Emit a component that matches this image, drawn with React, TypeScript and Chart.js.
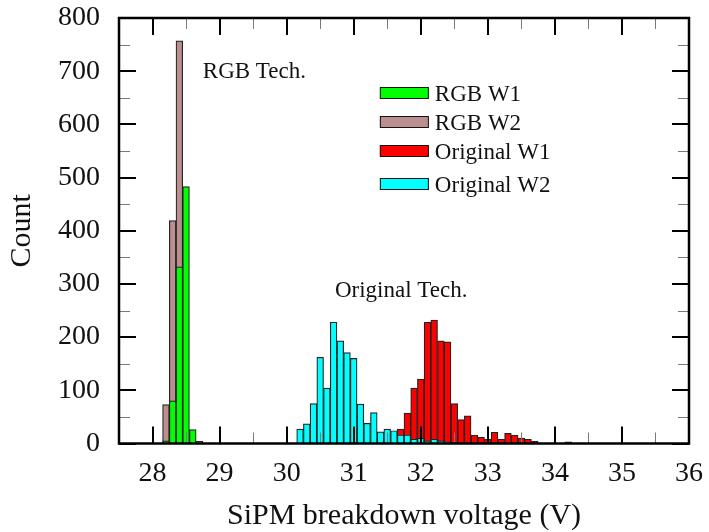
import { useEffect, useRef } from 'react';
import { Chart, registerables } from 'chart.js';

Chart.register(...registerables);

// ---- data (bin centres in V, counts) ----
const binsRgbW1 = [28.2, 28.3, 28.4, 28.5, 28.6];
const countsRgbW1 = [5, 80, 332, 483, 26];

const binsRgbW2 = [28.2, 28.3, 28.4, 28.7];
const countsRgbW2 = [73, 419, 757, 4];

const binsOrigW1 = [31.7, 31.8, 31.9, 32.0, 32.1, 32.2, 32.3, 32.4, 32.5, 32.6, 32.7, 32.8, 32.9, 33.0, 33.1, 33.2, 33.3, 33.4, 33.5, 33.6, 33.7, 34.2];
const countsOrigW1 = [27, 57, 104, 121, 228, 232, 193, 191, 75, 45, 52, 16, 12, 8, 21, 8, 19, 16, 10, 8, 4, 3];

const binsOrigW2 = [30.2, 30.3, 30.4, 30.5, 30.6, 30.7, 30.8, 30.9, 31.0, 31.1, 31.2, 31.3, 31.4, 31.5, 31.6, 31.7, 31.8, 31.9, 32.0, 32.1, 32.2, 32.3, 32.4];
const countsOrigW2 = [27, 37, 75, 162, 104, 228, 193, 171, 160, 74, 38, 58, 22, 27, 24, 16, 16, 8, 10, 5, 8, 5, 3];

const seriesNames = ['RGB W1', 'RGB W2', 'Original W1', 'Original W2'];

const xTickValues = [28, 29, 30, 31, 32, 33, 34, 35, 36];
const xMinorValues = [28.5, 29.5, 30.5, 31.5, 32.5, 33.5, 34.5, 35.5];
const yTickValues = [0, 100, 200, 300, 400, 500, 600, 700, 800];
const yMinorValues = [50, 150, 250, 350, 450, 550, 650, 750];

const xTitle = 'SiPM breakdown voltage (V)';
const yTitle = 'Count';

const annotationTexts = ['RGB Tech.', 'Original Tech.'];
const annotationX = [28.75, 30.72];
const annotationY = [687, 275];

const legendAnchorX = 31.39;
const legendAnchorY = 659;

// ---- styles ----
const SERIF = '"Liberation Serif", "Times New Roman", Times, serif';
const colors = ['#00ff00', '#bc8f8f', '#ff0000', '#00ffff'];
const edge = '#222222';
const legendRowOffsets = [0, 29, 58, 91];

const frameAndTicks = {
  id: 'frameAndTicks',
  afterDatasetsDraw(chart: any) {
    const { ctx, chartArea, scales } = chart;
    const { left, right, top, bottom } = chartArea;
    const x = scales.x;
    const y = scales.y;
    const line = (x1: number, y1: number, x2: number, y2: number) => {
      ctx.beginPath();
      ctx.moveTo(x1, y1);
      ctx.lineTo(x2, y2);
      ctx.stroke();
    };
    ctx.save();
    ctx.strokeStyle = '#7a7a7a';
    ctx.lineWidth = 1;
    for (const v of xMinorValues) {
      const px = Math.round(x.getPixelForValue(v)) + 0.5;
      line(px, bottom, px, bottom - 11);
      line(px, top, px, top + 11);
    }
    for (const v of yMinorValues) {
      const py = Math.round(y.getPixelForValue(v)) + 0.5;
      line(left, py, left + 11, py);
      line(right, py, right - 11, py);
    }
    ctx.strokeStyle = '#000';
    ctx.lineWidth = 2;
    for (const v of xTickValues) {
      const px = Math.round(x.getPixelForValue(v));
      line(px, bottom, px, bottom - 17);
      line(px, top, px, top + 17);
    }
    for (const v of yTickValues) {
      const py = Math.round(y.getPixelForValue(v));
      line(left, py, left + 17, py);
      line(right, py, right - 17, py);
    }
    ctx.lineWidth = 2.5;
    ctx.strokeRect(left, top, right - left, bottom - top);
    ctx.restore();
  },
  afterDraw(chart: any) {
    const { ctx, scales } = chart;
    const x = scales.x;
    const y = scales.y;
    ctx.save();
    ctx.fillStyle = '#111';
    ctx.textBaseline = 'alphabetic';
    ctx.textAlign = 'left';
    ctx.font = `23px ${SERIF}`;
    annotationTexts.forEach((t, i) => {
      ctx.fillText(t, x.getPixelForValue(annotationX[i]), y.getPixelForValue(annotationY[i]));
    });
    const lx = x.getPixelForValue(legendAnchorX);
    const ly = y.getPixelForValue(legendAnchorY);
    seriesNames.forEach((name, i) => {
      const cy = ly + legendRowOffsets[i];
      ctx.fillStyle = colors[i];
      ctx.fillRect(lx, cy - 5.5, 49, 11);
      ctx.strokeStyle = '#111';
      ctx.lineWidth = 1;
      ctx.strokeRect(lx + 0.5, Math.round(cy - 5.5) + 0.5, 48, 11);
      ctx.fillStyle = '#111';
      ctx.fillText(name, lx + 55, cy + 8);
    });
    ctx.restore();
  },
};

function makeSet(i: number, bins: number[], counts: number[], order: number) {
  return {
    label: seriesNames[i],
    data: bins.map((b, k) => ({ x: b, y: counts[k] })),
    backgroundColor: colors[i],
    borderColor: edge,
    borderWidth: 1.2,
    barPercentage: 1,
    categoryPercentage: 1,
    grouped: false,
    order,
  };
}

export default function App() {
  const ref = useRef<HTMLCanvasElement | null>(null);
  useEffect(() => {
    if (!ref.current) return;
    const chart = new Chart(ref.current, {
      type: 'bar',
      data: {
        datasets: [
          makeSet(0, binsRgbW1, countsRgbW1, 0),
          makeSet(1, binsRgbW2, countsRgbW2, 1),
          makeSet(2, binsOrigW1, countsOrigW1, 3),
          makeSet(3, binsOrigW2, countsOrigW2, 2),
        ] as any,
      },
      options: {
        animation: false,
        responsive: true,
        maintainAspectRatio: false,
        layout: { padding: { left: 0, top: 18, right: 20, bottom: 0 } },
        plugins: { legend: { display: false }, tooltip: { enabled: false } },
        scales: {
          x: {
            type: 'linear',
            min: 27.5,
            max: 36,
            offset: false,
            grid: { display: false, drawTicks: false },
            border: { display: false },
            afterBuildTicks: (s: any) => {
              s.ticks = xTickValues.map((v) => ({ value: v }));
            },
            afterFit: (s: any) => {
              s.height = 88.5;
              s.paddingLeft = 0;
              s.paddingRight = 0;
            },
            ticks: {
              font: { family: SERIF, size: 28 },
              color: '#111',
              padding: 13,
              maxRotation: 0,
              autoSkip: false,
            },
            title: {
              display: true,
              text: xTitle,
              color: '#111',
              font: { family: SERIF, size: 30, lineHeight: 1 },
              padding: { top: 0, bottom: 1 },
            },
          },
          y: {
            type: 'linear',
            min: 0,
            max: 800,
            grid: { display: false, drawTicks: false },
            border: { display: false },
            afterBuildTicks: (s: any) => {
              s.ticks = yTickValues.map((v) => ({ value: v }));
            },
            afterFit: (s: any) => {
              s.width = 119;
              s.paddingTop = 0;
              s.paddingBottom = 0;
            },
            ticks: {
              font: { family: SERIF, size: 28 },
              color: '#111',
              padding: 19,
            },
            title: {
              display: true,
              text: yTitle,
              color: '#111',
              font: { family: SERIF, size: 30, lineHeight: 1.2 },
              padding: { top: 4, bottom: 0 },
            },
          },
        },
      } as any,
      plugins: [frameAndTicks],
    });
    return () => chart.destroy();
  }, []);
  return (
    <div style={{ position: 'absolute', left: 0, top: 0, width: 709, height: 532, background: '#fff' }}>
      <canvas ref={ref} />
    </div>
  );
}
